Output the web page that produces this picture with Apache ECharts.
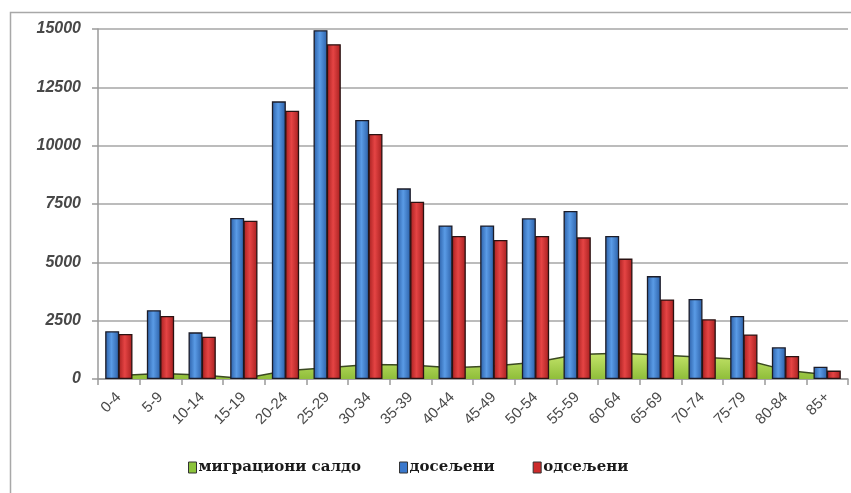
<!DOCTYPE html>
<html>
<head>
<meta charset="utf-8">
<script src="https://cdn.jsdelivr.net/npm/echarts@6/dist/echarts.min.js"></script>
<style>html,body{margin:0;padding:0;background:#fff}#c{width:851px;height:493px}</style>
</head>
<body>
<div id="c"></div>
<script>
const categories = ['0-4','5-9','10-14','15-19','20-24','25-29','30-34','35-39','40-44','45-49','50-54','55-59','60-64','65-69','70-74','75-79','80-84','85+'];
const saldo    = [150, 240, 170, 20, 350, 480, 620, 600, 480, 560, 720, 1050, 1100, 1030, 930, 840, 380, 180];
const doseljeni = [2050, 2950, 2000, 6900, 11900, 14950, 11100, 8170, 6580, 6580, 6890, 7200, 6130, 4410, 3430, 2700, 1360, 530];
const odseljeni = [1930, 2700, 1810, 6780, 11500, 14350, 10500, 7600, 6130, 5960, 6130, 6070, 5160, 3410, 2560, 1910, 990, 360];
const yTicks = [0, 2500, 5000, 7500, 10000, 12500, 15000];

const chart = echarts.init(document.getElementById('c'), null, {renderer: 'canvas'});
const hGrad = (a, b) => ({type:'linear', x:0, y:0, x2:1, y2:0, colorStops:[{offset:0,color:a},{offset:0.45,color:b},{offset:1,color:a}]});
chart.setOption({
  animation: false,
  backgroundColor: '#fff',
  graphic: [{
    type: 'rect', shape: {x: 10.5, y: 12.5, width: 900, height: 600},
    style: {fill: 'none', stroke: '#a8a8a8', lineWidth: 1.5}, silent: true, z: -10
  }],
  grid: {left: 98, top: 29, right: 3, bottom: 114},
  legend: {
    bottom: 13, left: 183, itemGap: 38, itemWidth: 8, itemHeight: 11,
    icon: 'rect',
    textStyle: {fontFamily: 'DejaVu Serif', fontWeight: 'bold', fontSize: 15, color: '#1a1a1a', padding: [0,0,0,-3]},
    data: [
      {name: 'миграциони салдо', itemStyle: {color: '#8cc43c', borderColor: '#333', borderWidth: 1}},
      {name: 'досељени', itemStyle: {color: '#3a78cc', borderColor: '#333', borderWidth: 1}},
      {name: 'одсељени', itemStyle: {color: '#cc2a2a', borderColor: '#333', borderWidth: 1}}
    ]
  },
  xAxis: {
    type: 'category', data: categories, boundaryGap: true,
    axisLine: {lineStyle: {color: '#9a9a9a', width: 1.5}},
    axisTick: {show: true, length: 6, lineStyle: {color: '#9a9a9a', width: 1.5}},
    axisLabel: {rotate: 45, margin: 16, interval: 0, fontFamily: 'Liberation Sans', fontWeight: 'normal', fontSize: 15, color: '#4a4a4a'},
    splitLine: {show: false}
  },
  yAxis: {
    type: 'value', min: yTicks[0], max: yTicks[yTicks.length-1], interval: 2500,
    axisLine: {show: true, lineStyle: {color: '#9a9a9a', width: 1.5}},
    axisTick: {show: true, length: 6, lineStyle: {color: '#9a9a9a', width: 1.5}},
    axisLabel: {margin: 17, formatter: v => String(v), fontFamily: 'Liberation Sans', fontWeight: 'bold', fontStyle: 'italic', fontSize: 16, color: '#484848'},
    splitLine: {lineStyle: {color: '#a6a6a6', width: 1.5}}
  },
  series: [
    {
      name: 'миграциони салдо', type: 'line', data: saldo, symbol: 'none', z: 1,
      lineStyle: {color: '#3b4a22', width: 1.5},
      itemStyle: {color: '#8cc43c'},
      areaStyle: {opacity: 1, color: {type:'linear', x:0, y:0, x2:0, y2:1, colorStops:[{offset:0,color:'#c4e46a'},{offset:1,color:'#8fbe3a'}]}}
    },
    {
      name: 'досељени', type: 'bar', data: doseljeni, barWidth: 14, barGap: '-5%', z: 3,
      itemStyle: {color: hGrad('#2a5ea6', '#5a9be6'), borderColor: '#1c1c28', borderWidth: 1.3}
    },
    {
      name: 'одсељени', type: 'bar', data: odseljeni, barWidth: 14, z: 3,
      itemStyle: {color: hGrad('#a61f1f', '#e54444'), borderColor: '#2a1212', borderWidth: 1.3}
    }
  ]
});
</script>
</body>
</html>
